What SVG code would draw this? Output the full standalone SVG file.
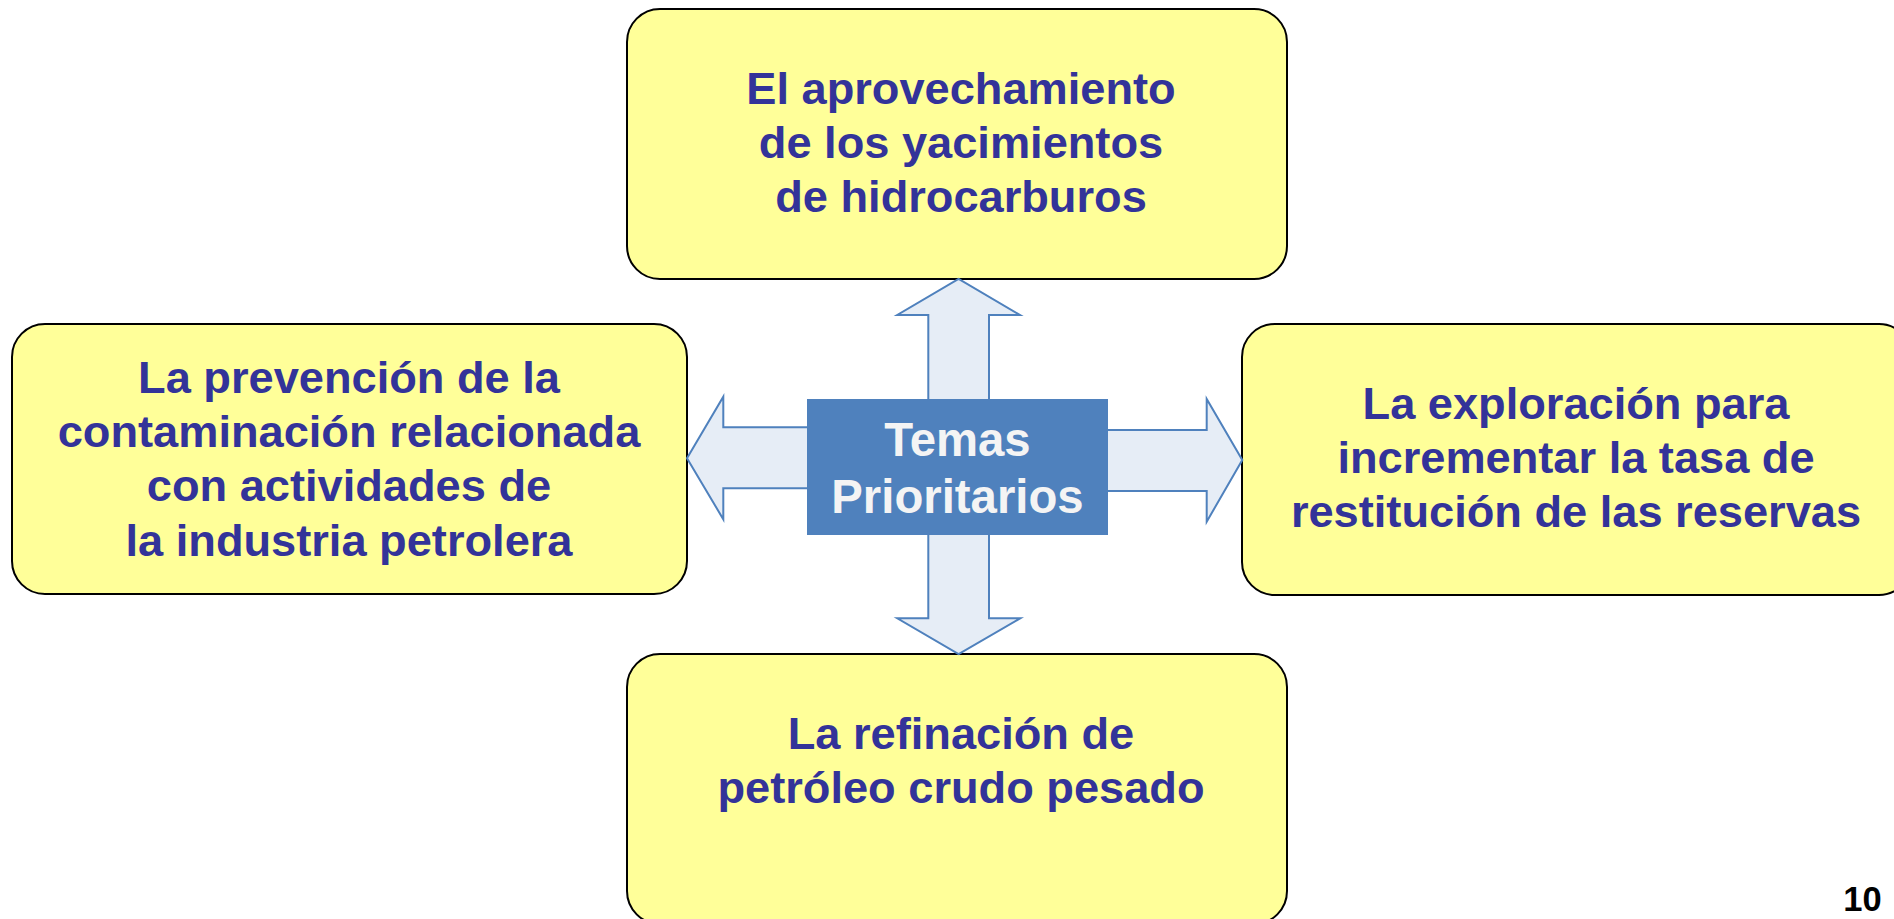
<svg xmlns="http://www.w3.org/2000/svg" width="1894" height="919" viewBox="0 0 1894 919">
<style>
.box{fill:#FFFF99;stroke:#000000;stroke-width:2}
.txt{font-family:"Liberation Sans",Arial,sans-serif;font-weight:bold;font-size:45.2px;fill:#333399;text-anchor:middle}
.arrow{fill:#E6EDF6;stroke:#4F81BD;stroke-width:2;stroke-linejoin:miter}
.ctr{fill:#4F81BD}
.ctxt{font-family:"Liberation Sans",Arial,sans-serif;font-weight:bold;font-size:47.3px;fill:#F4F4F4;text-anchor:middle}
.num{font-family:"Liberation Sans",Arial,sans-serif;font-weight:bold;font-size:34.5px;fill:#000000;text-anchor:middle}
</style>
<rect width="1894" height="919" fill="#FFFFFF"/>
<g id="node-top">
<rect class="box" x="627" y="9" width="660" height="270" rx="33" ry="33"/>
<text class="txt" x="961" y="103.5">El aprovechamiento</text>
<text class="txt" x="961" y="157.9">de los yacimientos</text>
<text class="txt" x="961" y="212.3">de hidrocarburos</text>
</g>
<g id="node-left">
<rect class="box" x="12" y="324" width="675" height="270" rx="33" ry="33"/>
<text class="txt" x="349" y="392.5">La prevención de la</text>
<text class="txt" x="349" y="446.9">contaminación relacionada</text>
<text class="txt" x="349" y="501.3">con actividades de</text>
<text class="txt" x="349" y="555.7">la industria petrolera</text>
</g>
<g id="node-right">
<rect class="box" x="1242" y="324" width="670" height="271" rx="33" ry="33"/>
<text class="txt" x="1576" y="418.5">La exploración para</text>
<text class="txt" x="1576" y="472.9">incrementar la tasa de</text>
<text class="txt" x="1576" y="527.3">restitución de las reservas</text>
</g>
<g id="node-bottom">
<rect class="box" x="627" y="654" width="660" height="270" rx="33" ry="33"/>
<text class="txt" x="961" y="749">La refinación de</text>
<text class="txt" x="961" y="803.4">petróleo crudo pesado</text>
</g>
<g id="connectors">
<polygon class="arrow" points="928.3,460 928.3,315 897.3,315 958.6,279 1020,315 989,315 989,460"/>
<polygon class="arrow" points="928.3,460 928.3,618.3 897.3,618.3 958.6,654 1020.3,618.3 989,618.3 989,460"/>
<polygon class="arrow" points="960,430 1206.7,430 1206.7,399 1242.3,460 1206.7,521.7 1206.7,491 960,491"/>
<polygon class="arrow" points="960,427.3 723.3,427.3 723.3,396.7 687,458.3 723.3,519.3 723.3,488.3 960,488.3"/>
</g>
<g id="node-center">
<rect class="ctr" x="807" y="399" width="301" height="136"/>
<text class="ctxt" x="957.5" y="456">Temas</text>
<text class="ctxt" x="957.5" y="513.3">Prioritarios</text>
</g>
<g id="page-number">
<text class="num" x="1862.5" y="911">10</text>
</g>
</svg>
